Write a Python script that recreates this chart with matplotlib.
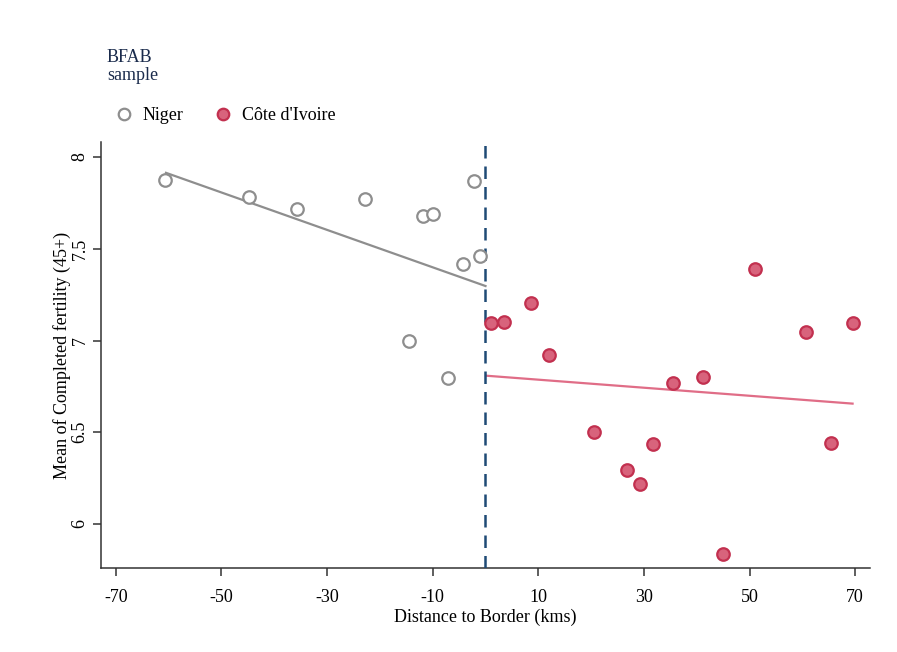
import matplotlib
matplotlib.use("Agg")
import matplotlib.pyplot as plt
from matplotlib.lines import Line2D

# Data
niger_x = [-60.7, -44.8, -35.6, -22.8, -11.8, -9.9, -2.2, -4.3, -1.0, -14.5, -7.1]
niger_y = [7.873, 7.780, 7.718, 7.774, 7.676, 7.689, 7.871, 7.418, 7.458, 7.000, 6.797]
niger_fit_x = [-60.5, 0.0]
niger_fit_y = [7.914, 7.297]

civ_x = [1.1, 3.5, 8.6, 12.0, 20.6, 26.8, 29.2, 31.7, 35.5, 41.1, 44.9, 51.0, 60.6, 65.4, 69.5]
civ_y = [7.095, 7.100, 7.204, 6.920, 6.503, 6.296, 6.216, 6.434, 6.767, 6.801, 5.835, 7.388, 7.045, 6.441, 7.097]
civ_fit_x = [0.2, 69.5]
civ_fit_y = [6.808, 6.656]

xticks = [-70, -50, -30, -10, 10, 30, 50, 70]
yticks = [6, 6.5, 7, 7.5, 8]
ytick_labels = ["6", "6.5", "7", "7.5", "8"]

plt.rcParams['font.family'] = ['Liberation Serif', 'DejaVu Serif']

fig = plt.figure(figsize=(8.97, 6.52), dpi=100)
ax = fig.add_axes([101/897, 1 - 568/652, (870-101)/897, (568-142)/652])

gray = '#8e8e8e'
civ_face = '#d8637c'
civ_edge = '#c2304f'
navy = '#1f4a75'

ax.plot(niger_fit_x, niger_fit_y, color=gray, lw=1.6, zorder=2)
ax.plot(civ_fit_x, civ_fit_y, color='#e06d87', lw=1.6, zorder=2)
ax.axvline(0, color=navy, lw=1.8, linestyle=(0, (5, 3.2)), zorder=3)

ax.plot(niger_x, niger_y, linestyle='none', marker='o', ms=9.0, mfc='white',
        mec=gray, mew=1.6, zorder=4)
ax.plot(civ_x, civ_y, linestyle='none', marker='o', ms=9.0, mfc=civ_face,
        mec=civ_edge, mew=1.6, zorder=4)

ax.set_xlim(-72.8, 72.8)
ax.set_ylim(5.760, 8.082)
ax.set_xticks(xticks)
ax.set_xticklabels([str(v) for v in xticks])
ax.set_yticks(yticks)
ax.set_yticklabels(ytick_labels, rotation=90, va='center')

for s in ['top', 'right']:
    ax.spines[s].set_visible(False)
for s in ['left', 'bottom']:
    ax.spines[s].set_color('#333333')
    ax.spines[s].set_linewidth(1.1)
ax.tick_params(axis='both', direction='out', length=6, width=1.1, colors='#333333',
               labelsize=13, labelcolor='black')
ax.tick_params(axis='x', pad=9)
ax.tick_params(axis='y', pad=3)

ax.set_xlabel('Distance to Border (kms)', fontsize=13, labelpad=2)
ax.set_ylabel('Mean of Completed fertility (45+)', fontsize=13, labelpad=0.5)

handles = [
    Line2D([], [], linestyle='none', marker='o', ms=8.3, mfc='white', mec=gray, mew=1.6),
    Line2D([], [], linestyle='none', marker='o', ms=8.3, mfc=civ_face, mec=civ_edge, mew=1.6),
]
fig.text(107/897, 1 - 58/652, 'BFAB', fontsize=13, color='#1a2b4c', va='center', ha='left')
fig.text(107/897, 1 - 75/652, 'sample', fontsize=13, color='#1a2b4c', va='center', ha='left')
leg = fig.legend(handles, ['Niger', "Côte d'Ivoire"], ncol=2, frameon=False,
                 loc='center left', bbox_to_anchor=(113/897, 1 - 116/652),
                 fontsize=13, handletextpad=0.45, columnspacing=1.6, handlelength=1.2,
                 borderaxespad=0, borderpad=0)

fig.savefig('out.png', dpi=100, facecolor='white')
